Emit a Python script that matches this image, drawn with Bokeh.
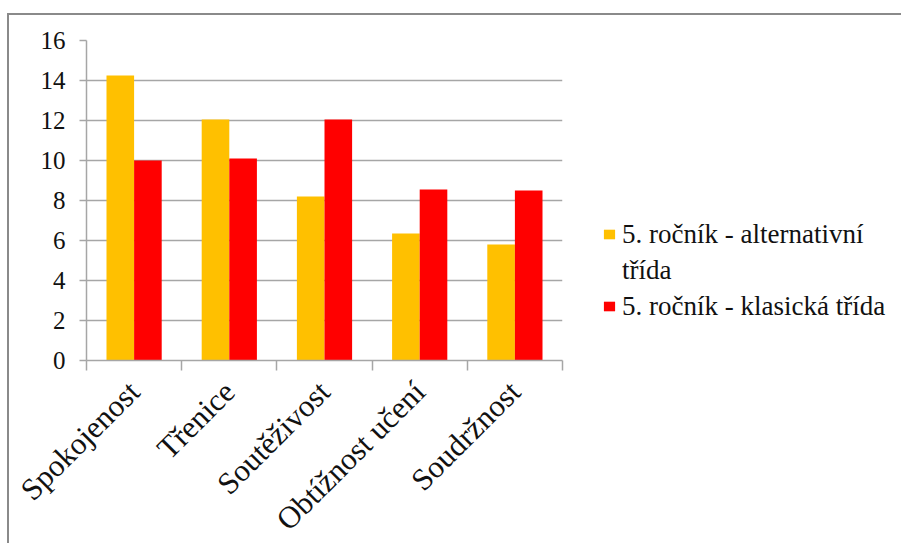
from math import pi

from bokeh.embed import file_html
from bokeh.models import FixedTicker, Legend, LegendItem, Range1d
from bokeh.plotting import figure
from bokeh.resources import INLINE

# Survey results, 5th grade: alternative class vs. classic class
categories = ["Spokojenost", "Třenice", "Soutěživost", "Obtížnost učení", "Soudržnost"]
alternativni = [14.25, 12.05, 8.2, 6.35, 5.8]
klasicka = [10.0, 10.1, 12.05, 8.55, 8.5]
label_alternativni = ["5. ročník - alternativní", "třída"]
label_klasicka = "5. ročník - klasická třída"
y_ticks = [0, 2, 4, 6, 8, 10, 12, 14, 16]

SERIF = "Liberation Serif"
YELLOW = "#FFC000"
RED = "#FF0000"
GRID = "#a6a6a6"
TEXT = "#111111"
BAR_W = 0.29

# page offset of the canvas inside the grey chart border
OFF_X, OFF_Y = 9, 15
FRAME_W, FRAME_H = 476, 320
LEFT, TOP = 86 - OFF_X, 40 - OFF_Y
CANVAS_W, CANVAS_H = 901 - OFF_X, 543 - OFF_Y

p = figure(
    frame_width=FRAME_W, frame_height=FRAME_H,
    min_border_left=LEFT, min_border_right=CANVAS_W - LEFT - FRAME_W,
    min_border_top=TOP, min_border_bottom=CANVAS_H - TOP - FRAME_H,
    x_range=Range1d(0, len(categories)), y_range=Range1d(0, 16),
    output_backend="svg", toolbar_location=None,
)
p.outline_line_color = None
p.background_fill_color = "white"
p.border_fill_color = "white"
p.styles = {
    "margin-left": "7px", "margin-top": "13px",
    "border-left": "2px solid #8a8a8a", "border-top": "2px solid #8a8a8a",
}

centers = [i + 0.5 for i in range(len(categories))]
r_alt = p.vbar(x=[c - BAR_W / 2 for c in centers], top=alternativni, width=BAR_W,
               fill_color=YELLOW, line_color=None)
r_kla = p.vbar(x=[c + BAR_W / 2 for c in centers], top=klasicka, width=BAR_W,
               fill_color=RED, line_color=None)
# empty renderer carrying the wrapped second line of the first legend entry
r_wrap = p.vbar(x=[], top=[], width=BAR_W, fill_alpha=0, line_alpha=0)

# x axis: labels at category centres, tick marks at category boundaries
xax = p.xaxis[0]
xax.ticker = FixedTicker(ticks=centers, minor_ticks=list(range(len(categories) + 1)))
xax.major_label_overrides = {c: name for c, name in zip(centers, categories)}
xax.major_label_orientation = pi / 4
xax.major_label_text_font = SERIF
xax.major_label_text_font_size = "31px"
xax.major_label_text_color = TEXT
xax.major_label_standoff = 16
xax.major_tick_out = 0
xax.major_tick_in = 0
xax.minor_tick_out = 10
xax.minor_tick_in = 0
xax.minor_tick_line_color = GRID
xax.minor_tick_line_width = 1.5
xax.axis_line_color = GRID
xax.axis_line_width = 1.5

yax = p.yaxis[0]
yax.ticker = FixedTicker(ticks=y_ticks)
yax.major_label_text_font = SERIF
yax.major_label_text_font_size = "25px"
yax.major_label_text_color = TEXT
yax.major_label_standoff = 14
yax.major_tick_out = 7
yax.major_tick_in = 0
yax.minor_tick_line_color = None
yax.major_tick_line_color = GRID
yax.major_tick_line_width = 1.5
yax.axis_line_color = GRID
yax.axis_line_width = 1.5

p.xgrid.grid_line_color = None
p.ygrid.ticker = FixedTicker(ticks=y_ticks)
p.ygrid.grid_line_color = GRID
p.ygrid.grid_line_width = 1.5

legend = Legend(
    items=[
        LegendItem(label=label_alternativni[0], renderers=[r_alt]),
        LegendItem(label=label_alternativni[1], renderers=[r_wrap]),
        LegendItem(label=label_klasicka, renderers=[r_kla]),
    ],
    location=(40, 36),
    padding=0, margin=0, spacing=0,
    glyph_width=14, glyph_height=12, label_height=36, label_standoff=6,
    label_text_font=SERIF, label_text_font_size="27px", label_text_color=TEXT,
    border_line_color=None, background_fill_alpha=0,
)
p.add_layout(legend, "right")

open("out.html", "w").write(file_html(p, INLINE))
